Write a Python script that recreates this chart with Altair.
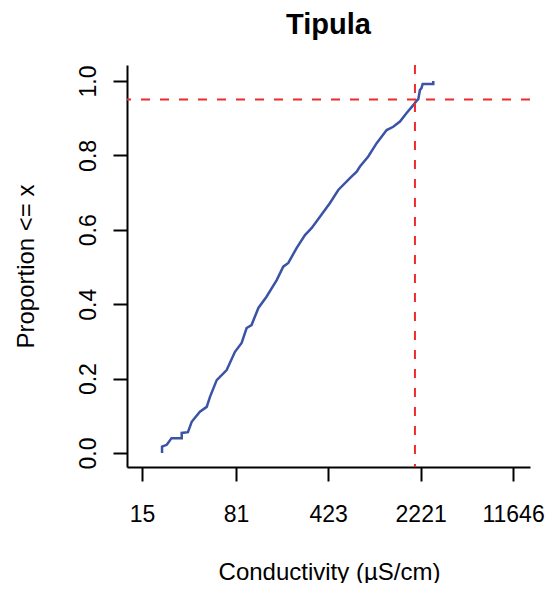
import altair as alt
import pandas as pd

# ECDF trace (conductivity in µS/cm, cumulative proportion)
cond = [21.5, 21.5, 23.4, 25.5, 30.6, 30.6, 34.2, 36.6, 42.4, 47.9, 50.8, 57.3,
        68.5, 79.5, 89.6, 98.0, 107, 121, 140, 168, 189, 207, 240, 279, 315,
        365, 437, 507, 625, 705, 748, 868, 1009, 1208, 1359, 1532, 1727, 1946,
        2067, 2128, 2194, 2250, 2303, 2785, 2785]
prop = [0.0, 0.017, 0.022, 0.040, 0.040, 0.054, 0.056, 0.084, 0.111, 0.124, 0.151, 0.196,
        0.223, 0.272, 0.296, 0.336, 0.344, 0.390, 0.420, 0.465, 0.501, 0.511, 0.551, 0.586, 0.605,
        0.635, 0.672, 0.707, 0.739, 0.756, 0.770, 0.797, 0.833, 0.868, 0.877, 0.891, 0.914, 0.935,
        0.947, 0.951, 0.976, 0.980, 0.992, 0.992, 1.0]

x_ticks = [15, 81, 423, 2221, 11646]
y_ticks = [0.0, 0.2, 0.4, 0.6, 0.8, 1.0]
threshold_x = [2005]
threshold_y = [0.95]

FONT = "Liberation Sans"

df = pd.DataFrame({"cond": cond, "prop": prop, "order": list(range(len(cond)))})

xscale = alt.Scale(type="log", domain=[11.47, 15780], nice=False, zero=False)
yscale = alt.Scale(domain=[-0.0376, 1.043], nice=False, zero=False)

line = alt.Chart(df).mark_line(color="#3A53A4", strokeWidth=2.5).encode(
    x=alt.X("cond:Q", scale=xscale,
            axis=alt.Axis(values=x_ticks, format="d", title="Conductivity (µS/cm)",
                          labelPadding=22, labelBaseline="top", labelFontSize=23,
                          titleFontSize=24, titleFontWeight="normal",
                          titleX=202, titleY=112, titleBaseline="alphabetic",
                          titleAlign="center")),
    y=alt.Y("prop:Q", scale=yscale,
            axis=alt.Axis(values=y_ticks, format=".1f", title="Proportion <= x",
                          labelAngle=270, labelAlign="center", labelBaseline="alphabetic",
                          labelPadding=18, labelFontSize=23,
                          titleFontSize=24, titleFontWeight="normal",
                          titleAngle=270, titleX=-94, titleY=201,
                          titleBaseline="alphabetic", titleAlign="center")),
    order="order:Q",
)

vrule = alt.Chart(pd.DataFrame({"v": threshold_x})).mark_rule(
    color="#EE2A2A", strokeWidth=2, strokeDash=[9, 10]
).encode(x=alt.X("v:Q", scale=xscale))

hrule = alt.Chart(pd.DataFrame({"h": threshold_y})).mark_rule(
    color="#EE2A2A", strokeWidth=2, strokeDash=[9, 10]
).encode(y=alt.Y("h:Q", scale=yscale))

chart = alt.layer(line, vrule, hrule).properties(
    width=403,
    height=402,
    autosize=alt.AutoSizeParams(type="none"),
    padding={"left": 119, "top": 57, "right": 16, "bottom": 116},
    title=alt.TitleParams("Tipula", fontSize=29, fontWeight="bold", font=FONT,
                          anchor="middle", baseline="alphabetic", offset=1,
                          color="black"),
).configure_view(stroke=None).configure_axis(
    grid=False,
    domainColor="black", domainWidth=2,
    tickColor="black", tickWidth=2, tickSize=14,
    labelColor="black", titleColor="black",
    labelFont=FONT, titleFont=FONT,
)

chart.save("out.html", embed_options={"renderer": "svg", "actions": False})
